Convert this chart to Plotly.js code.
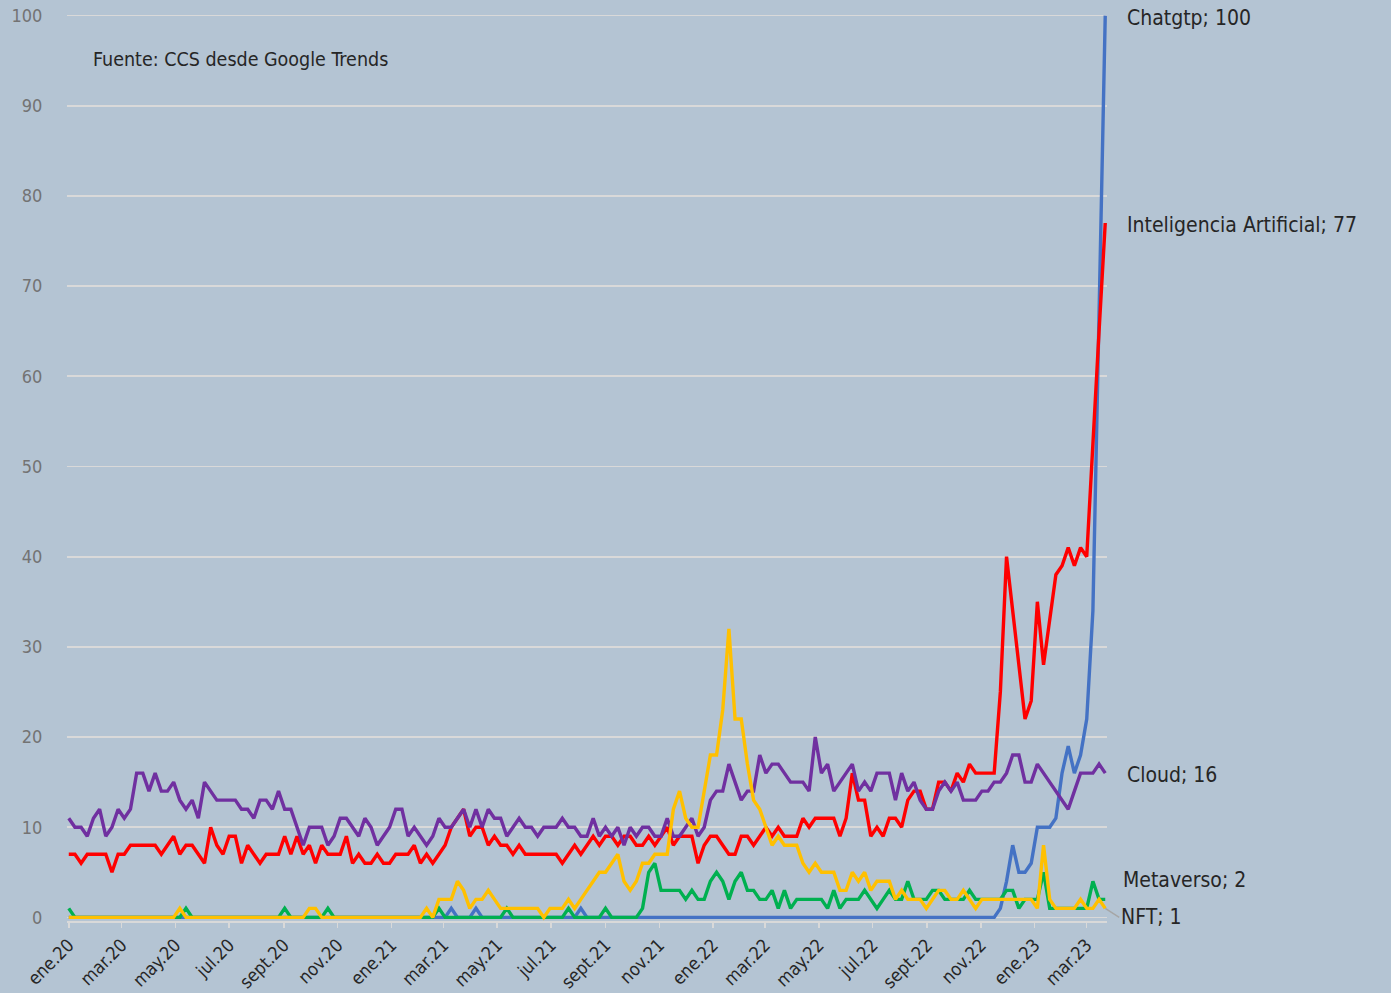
<!DOCTYPE html>
<html>
<head>
<meta charset="utf-8">
<script src="https://cdn.plot.ly/plotly-3.0.1.min.js"></script>
<style>
html,body{margin:0;padding:0;background:#B4C4D3;}
#chart{width:1391px;height:993px;}
</style>
</head>
<body>
<div id="chart"></div>
<script>
// ---- Data (weekly Google Trends, first week 2020-01-05) ----
const firstWeek = '2020-01-05';

const seriesNames = ['Chatgtp', 'Inteligencia Artificial', 'Cloud', 'Metaverso', 'NFT'];

const chatgtp = [
  0,0,0,0,0,0,0,0,0,0,
  0,0,0,0,0,0,0,0,0,0,
  0,0,0,0,0,0,0,0,0,0,
  0,0,0,0,0,0,0,0,0,0,
  0,0,0,0,0,0,0,0,0,0,
  0,0,0,0,0,0,0,0,0,0,
  0,0,1,0,0,0,1,0,0,0,
  0,0,0,0,0,0,0,0,0,0,
  0,0,0,1,0,0,0,0,0,0,
  0,0,0,0,0,0,0,0,0,0,
  0,0,0,0,0,0,0,0,0,0,
  0,0,0,0,0,0,0,0,0,0,
  0,0,0,0,0,0,0,0,0,0,
  0,0,0,0,0,0,0,0,0,0,
  0,0,0,0,0,0,0,0,0,0,
  0,1,4,8,5,5,6,10,10,10,
  11,16,19,16,18,22,34,67,100
];

const inteligenciaArtificial = [
  7,7,6,7,7,7,7,5,7,7,
  8,8,8,8,8,7,8,9,7,8,
  8,7,6,10,8,7,9,9,6,8,
  7,6,7,7,7,9,7,9,7,8,
  6,8,7,7,7,9,6,7,6,6,
  7,6,6,7,7,7,8,6,7,6,
  7,8,10,11,12,9,10,10,8,9,
  8,8,7,8,7,7,7,7,7,7,
  6,7,8,7,8,9,8,9,9,8,
  9,9,8,8,9,8,9,10,8,9,
  9,9,6,8,9,9,8,7,7,9,
  9,8,9,10,9,10,9,9,9,11,
  10,11,11,11,11,9,11,16,13,13,
  9,10,9,11,11,10,13,14,14,12,
  12,15,15,14,16,15,17,16,16,16,
  16,25,40,34,28,22,24,35,28,33,
  38,39,41,39,41,40,53,65,77
];

const cloud = [
  11,10,10,9,11,12,9,10,12,11,
  12,16,16,14,16,14,14,15,13,12,
  13,11,15,14,13,13,13,13,12,12,
  11,13,13,12,14,12,12,10,8,10,
  10,10,8,9,11,11,10,9,11,10,
  8,9,10,12,12,9,10,9,8,9,
  11,10,10,11,12,10,12,10,12,11,
  11,9,10,11,10,10,9,10,10,10,
  11,10,10,9,9,11,9,10,9,10,
  8,10,9,10,10,9,9,11,9,9,
  10,11,9,10,13,14,14,17,15,13,
  14,14,18,16,17,17,16,15,15,15,
  14,20,16,17,14,15,16,17,14,15,
  14,16,16,16,13,16,14,15,13,12,
  12,14,15,14,15,13,13,13,14,14,
  15,15,16,18,18,15,15,17,16,15,
  14,13,12,14,16,16,16,17,16
];

const metaverso = [
  1,0,0,0,0,0,0,0,0,0,
  0,0,0,0,0,0,0,0,0,1,
  0,0,0,0,0,0,0,0,0,0,
  0,0,0,0,0,1,0,0,0,0,
  0,0,1,0,0,0,0,0,0,0,
  0,0,0,0,0,0,0,0,0,0,
  1,0,0,0,0,0,0,0,0,0,
  0,1,0,0,0,0,0,0,0,0,
  0,1,0,0,0,0,0,1,0,0,
  0,0,0,1,5,6,3,3,3,3,
  2,3,2,2,4,5,4,2,4,5,
  3,3,2,2,3,1,3,1,2,2,
  2,2,2,1,3,1,2,2,2,3,
  2,1,2,3,2,2,4,2,2,2,
  3,3,2,2,2,2,3,2,2,2,
  2,2,3,3,1,2,2,2,5,1,
  1,1,1,1,1,1,4,2,2
];

const nft = [
  0,0,0,0,0,0,0,0,0,0,
  0,0,0,0,0,0,0,0,1,0,
  0,0,0,0,0,0,0,0,0,0,
  0,0,0,0,0,0,0,0,0,1,
  1,0,0,0,0,0,0,0,0,0,
  0,0,0,0,0,0,0,0,1,0,
  2,2,2,4,3,1,2,2,3,2,
  1,1,1,1,1,1,1,0,1,1,
  1,2,1,2,3,4,5,5,6,7,
  4,3,4,6,6,7,7,7,12,14,
  11,10,10,14,18,18,23,32,22,22,
  17,13,12,10,8,9,8,8,8,6,
  5,6,5,5,5,3,3,5,4,5,
  3,4,4,4,2,3,2,2,2,1,
  2,3,3,2,2,3,2,1,2,2,
  2,2,2,2,2,2,2,1,8,2,
  1,1,1,1,2,1,1,2,1
];

const tickDates = ['2020-01-05','2020-03-05','2020-05-05','2020-07-05','2020-09-05','2020-11-05',
                   '2021-01-05','2021-03-05','2021-05-05','2021-07-05','2021-09-05','2021-11-05',
                   '2022-01-05','2022-03-05','2022-05-05','2022-07-05','2022-09-05','2022-11-05',
                   '2023-01-05','2023-03-05'];
const tickLabels = ['ene.20','mar.20','may.20','jul.20','sept.20','nov.20',
                    'ene.21','mar.21','may.21','jul.21','sept.21','nov.21',
                    'ene.22','mar.22','may.22','jul.22','sept.22','nov.22',
                    'ene.23','mar.23'];

const sourceNote = 'Fuente: CCS desde Google Trends';

// ---- Build ----
function addDays(iso, d) {
  const t = new Date(iso + 'T00:00:00Z');
  t.setUTCDate(t.getUTCDate() + d);
  return t.toISOString().slice(0, 10);
}
const dates = cloud.map((_, i) => addDays(firstWeek, 7 * i));
const lastDate = dates[dates.length - 1];

const FONT = "'DejaVu Sans Condensed', 'DejaVu Sans', sans-serif";
const seriesData = [chatgtp, inteligenciaArtificial, cloud, metaverso, nft];
const colors = ['#4472C4', '#FF0000', '#7030A0', '#00B050', '#FFC000'];

const traces = seriesData.map((vals, k) => ({
  type: 'scatter', mode: 'lines', x: dates, y: vals, name: seriesNames[k],
  line: {color: colors[k], width: 3.4, shape: 'linear'},
  hoverinfo: 'x+y+name'
}));

const labelShift = [-2, -2, -2, 19, 0];
const annotations = seriesData.map((vals, k) => {
  const v = vals[vals.length - 1];
  const a = {
    x: lastDate, y: v, xref: 'x', yref: 'y',
    text: seriesNames[k] + '; ' + v,
    xanchor: 'left', yanchor: 'middle',
    font: {family: FONT, size: 21, color: '#262626'},
    showarrow: false, xshift: k === 3 ? 16 : 20, yshift: labelShift[k]
  };
  if (k === 4) {
    Object.assign(a, {showarrow: true, ax: 14, ay: 9, arrowhead: 0, arrowwidth: 1.5,
      arrowcolor: '#A6A6A6', standoff: 0, xshift: 0});
  }
  return a;
});
annotations.push({
  xref: 'paper', yref: 'paper', x: 0.0235, y: 0.9476,
  xanchor: 'left', yanchor: 'middle', showarrow: false,
  text: sourceNote, font: {family: FONT, size: 19.5, color: '#262626'}
});

const layout = {
  width: 1391, height: 993,
  paper_bgcolor: '#B4C4D3', plot_bgcolor: '#B4C4D3',
  margin: {l: 66.5, r: 283.6, t: 12.4, b: 72.4},
  showlegend: false,
  font: {family: FONT},
  xaxis: {
    type: 'date',
    range: [addDays(firstWeek, -2), addDays(lastDate, 2)],
    tickmode: 'array', tickvals: tickDates, ticktext: tickLabels,
    tickangle: -45, tickfont: {family: FONT, size: 18, color: '#262626'},
    ticks: 'outside', ticklen: 5, tickcolor: '#D9D9D9', tickwidth: 1.5,
    showgrid: false, zeroline: false,
    showline: true, linecolor: '#D9D9D9', linewidth: 1.5
  },
  yaxis: {
    range: [-0.4, 100.4],
    tickmode: 'array', tickvals: [0,10,20,30,40,50,60,70,80,90,100],
    tickfont: {family: FONT, size: 18, color: '#737373'},
    ticks: 'outside', ticklen: 20, tickcolor: 'rgba(0,0,0,0)',
    showgrid: true, gridcolor: '#D9D9D9', gridwidth: 1.75,
    zeroline: false, showline: false
  },
  annotations: annotations
};

Plotly.newPlot('chart', traces, layout, {displayModeBar: false, staticPlot: true});
</script>
</body>
</html>
